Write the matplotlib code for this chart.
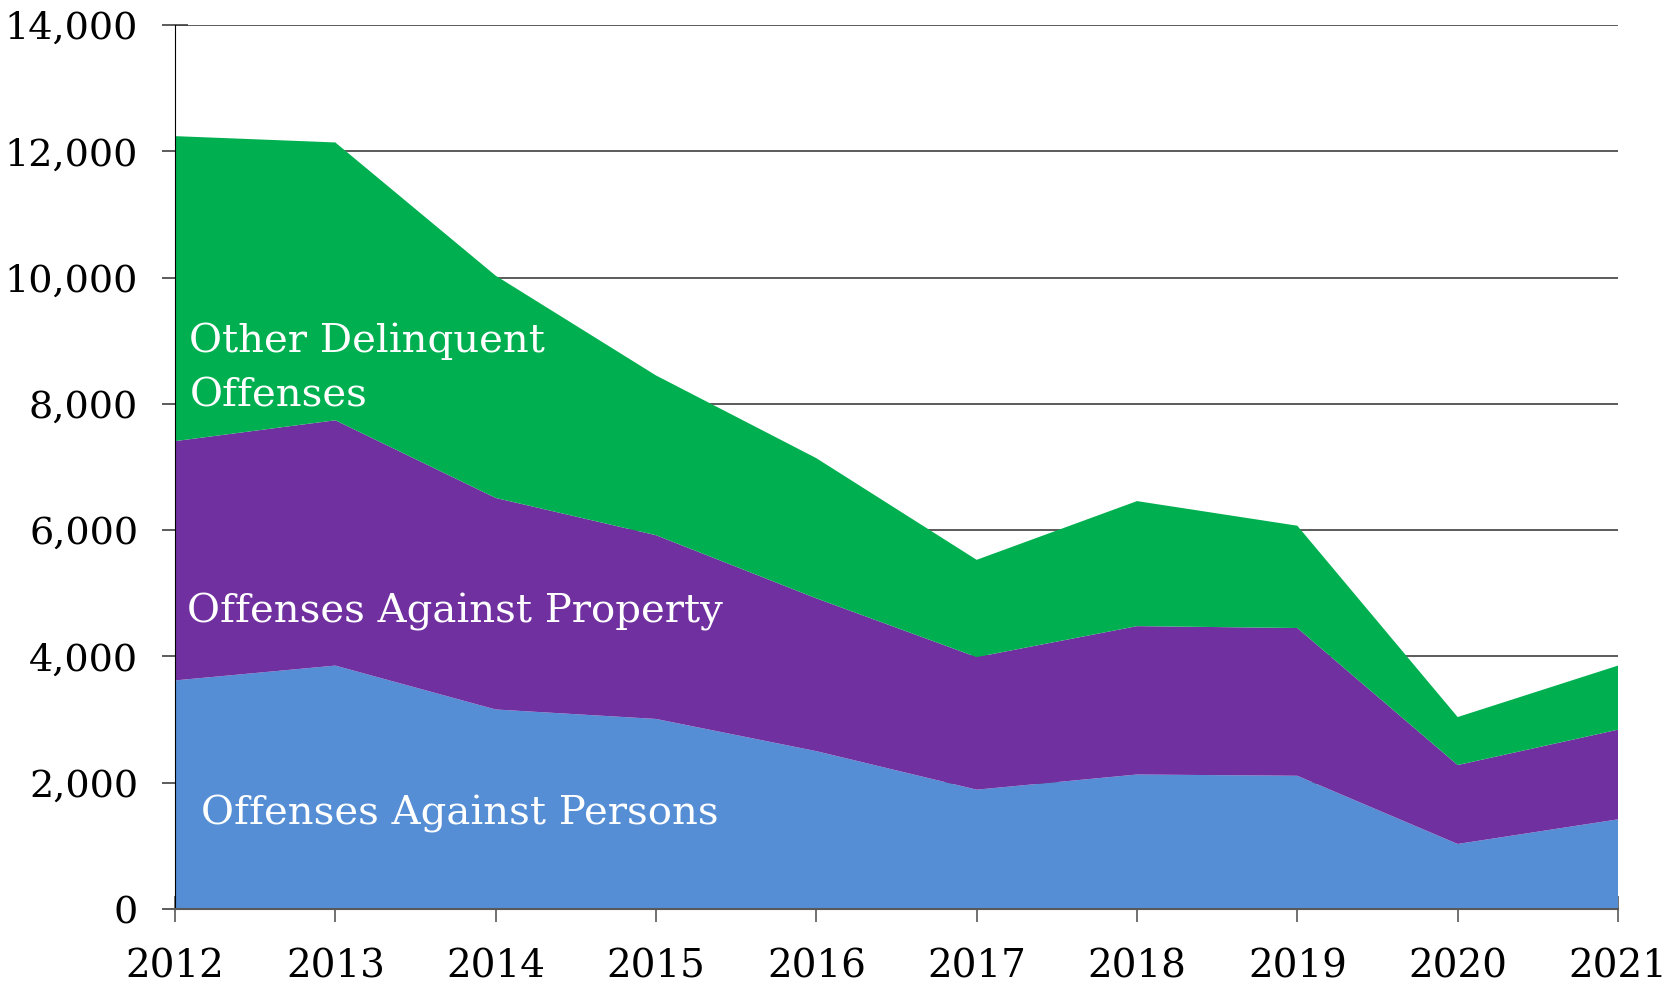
import matplotlib
matplotlib.use("Agg")
import matplotlib.pyplot as plt
from matplotlib.ticker import FuncFormatter
import numpy as np

# Данные
years = [2012, 2013, 2014, 2015, 2016, 2017, 2018, 2019, 2020, 2021]
persons = [3620, 3855, 3160, 3010, 2500, 1890, 2130, 2110, 1030, 1420]
property_top = [7410, 7740, 6510, 5920, 4920, 3990, 4480, 4450, 2280, 2840]
total_top = [12240, 12140, 10030, 8450, 7140, 5530, 6460, 6070, 3040, 3855]

property_vals = list(np.array(property_top) - np.array(persons))
other_vals = list(np.array(total_top) - np.array(property_top))

colors = ["#558ED5", "#7030A0", "#00B050"]
labels = ["Offenses Against Persons", "Offenses Against Property", "Other Delinquent\nOffenses"]

plt.rcParams["font.family"] = ["DejaVu Serif"]

fig = plt.figure(figsize=(16.75, 9.85), dpi=100)
ax = fig.add_axes([175 / 1675, 1 - 909 / 985, (1618 - 175) / 1675, (909 - 25) / 985])

ax.stackplot(years, persons, property_vals, other_vals, colors=colors, linewidth=0, zorder=2)

ax.set_xlim(2012, 2021)
ax.set_ylim(0, 14000)
ax.set_xticks(years)
ax.set_yticks(range(0, 14001, 2000))
ax.yaxis.set_major_formatter(FuncFormatter(lambda v, p: f"{int(v):,}"))

ax.grid(axis="y", color="#404040", linewidth=1.2, zorder=0)
ax.set_axisbelow(True)

for s in ["top", "right"]:
    ax.spines[s].set_visible(False)
ax.spines["left"].set_color("black")
ax.spines["bottom"].set_color("#595959")
ax.spines["bottom"].set_linewidth(1.5)
ax.spines["bottom"].set_zorder(3)

ax.tick_params(axis="y", direction="inout", length=19, width=1.2, color="#404040",
               labelsize=27.5, pad=17)
ax.tick_params(axis="x", direction="inout", length=19, width=1.2, color="#595959",
               labelsize=28, pad=19)

# подписи слоёв
ax.text(2012.09, 8560, labels[2], color="white", fontsize=29, va="center", ha="left",
        linespacing=1.62, zorder=4)
ax.text(2012.075, 4704, labels[1], color="white", fontsize=29, va="center", ha="left", zorder=4)
ax.text(2012.16, 1505, labels[0], color="white", fontsize=29, va="center", ha="left", zorder=4)

fig.savefig("out.png", dpi=100, facecolor="white")
